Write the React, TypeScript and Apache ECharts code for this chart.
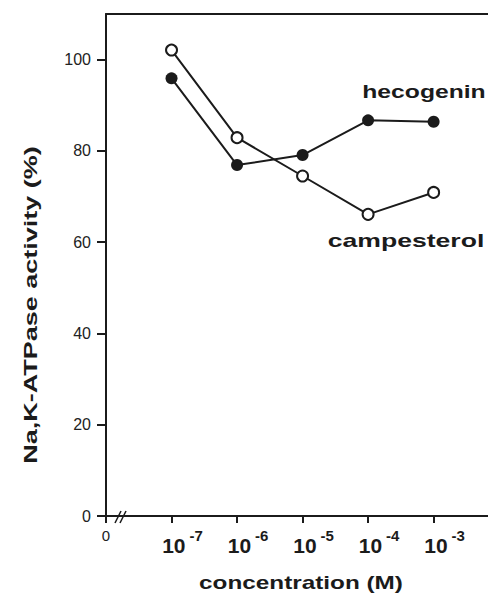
import React, { useEffect, useRef } from 'react';
import * as echarts from 'echarts';

const positions = [1, 2, 3, 4, 5];
const exponents = ['-7', '-6', '-5', '-4', '-3'];
const hecogenin = [95.9, 76.9, 79.1, 86.7, 86.4];
const campesterol = [102.1, 82.9, 74.5, 66.1, 70.9];
const yTicks = [0, 20, 40, 60, 80, 100];
const xTicks = [0, 1, 2, 3, 4, 5];

export default function App() {
  const ref = useRef<HTMLDivElement>(null);
  useEffect(() => {
    const chart = echarts.init(ref.current!, null, { renderer: 'svg' });
    const font = '"Liberation Sans", Arial, Helvetica, sans-serif';
    const ink = '#1b1b1b';
    const bold = { fontFamily: font, fontWeight: 'bold' as const, fill: ink };
    chart.setOption({
      animation: false,
      backgroundColor: '#fff',
      grid: { left: 106, right: 0, top: 14, bottom: 83 },
      xAxis: [
        {
          type: 'value', min: 0, max: 5.83, position: 'bottom',
          axisLine: { show: true, onZero: false, lineStyle: { color: ink, width: 2 } },
          axisTick: { show: true, inside: false, length: 7, customValues: xTicks, lineStyle: { color: ink, width: 2 } },
          axisLabel: {
            customValues: xTicks,
            margin: 12,
            padding: [0, 0, 0, 22],
            formatter: (v: number) => (v === 0 ? '{z|0}' : `{b|10}{s|${exponents[Math.round(v) - 1]}}`),
            rich: {
              b: { fontFamily: font, fontSize: 21, fontWeight: 'bold', color: ink, lineHeight: 34 },
              s: { fontFamily: font, fontSize: 15, fontWeight: 'bold', color: ink, lineHeight: 15, verticalAlign: 'top', padding: [0, 0, 0, 4] },
              z: { fontFamily: font, fontSize: 15, color: '#222', lineHeight: 24, verticalAlign: 'top', padding: [0, 22, 0, 0] },
            },
          },
          splitLine: { show: false },
        },
        {
          type: 'value', min: 0, max: 5.83, position: 'top',
          axisLine: { show: true, onZero: false, lineStyle: { color: ink, width: 2 } },
          axisTick: { show: false },
          axisLabel: { show: false },
          splitLine: { show: false },
        },
      ],
      yAxis: {
        type: 'value', min: 0, max: 110,
        axisLine: { show: true, onZero: false, lineStyle: { color: ink, width: 2 } },
        axisTick: { show: true, length: 9, customValues: yTicks, lineStyle: { color: ink, width: 2 } },
        axisLabel: { customValues: yTicks, margin: 15, fontSize: 16, color: '#222', fontFamily: font },
        splitLine: { show: false },
      },
      series: [
        {
          type: 'line', name: 'hecogenin',
          data: positions.map((x, i) => [x, hecogenin[i]]),
          symbol: 'circle', symbolSize: 12,
          lineStyle: { color: ink, width: 2 },
          itemStyle: { color: ink, borderColor: ink, borderWidth: 0 },
          emphasis: { disabled: true },
          z: 3,
        },
        {
          type: 'line', name: 'campesterol',
          data: positions.map((x, i) => [x, campesterol[i]]),
          symbol: 'circle', symbolSize: 11,
          lineStyle: { color: ink, width: 2 },
          itemStyle: { color: '#fff', borderColor: ink, borderWidth: 2 },
          emphasis: { disabled: true },
          z: 4,
        },
      ],
      graphic: [
        { type: 'line', shape: { x1: 115, y1: 523, x2: 121, y2: 511 }, style: { stroke: ink, lineWidth: 1.5 } },
        { type: 'line', shape: { x1: 120, y1: 523, x2: 126, y2: 511 }, style: { stroke: ink, lineWidth: 1.5 } },
        { type: 'text', x: 424, y: 92, scaleX: 1.3, style: { ...bold, text: 'hecogenin', fontSize: 19, textAlign: 'center', textVerticalAlign: 'middle' } },
        { type: 'text', x: 406, y: 240, scaleX: 1.4, style: { ...bold, text: 'campesterol', fontSize: 19, textAlign: 'center', textVerticalAlign: 'middle' } },
        { type: 'text', x: 301, y: 582, scaleX: 1.28, style: { ...bold, text: 'concentration (M)', fontSize: 19, textAlign: 'center', textVerticalAlign: 'middle' } },
        { type: 'text', x: 30, y: 305, rotation: Math.PI / 2, scaleX: 1.42, style: { ...bold, text: 'Na,K-ATPase activity (%)', fontSize: 19, textAlign: 'center', textVerticalAlign: 'middle' } },
      ],
    });
    return () => chart.dispose();
  }, []);
  return (
    <div
      ref={ref}
      style={{ position: 'fixed', left: 0, top: 0, width: 488, height: 599, background: '#fff' }}
    />
  );
}
